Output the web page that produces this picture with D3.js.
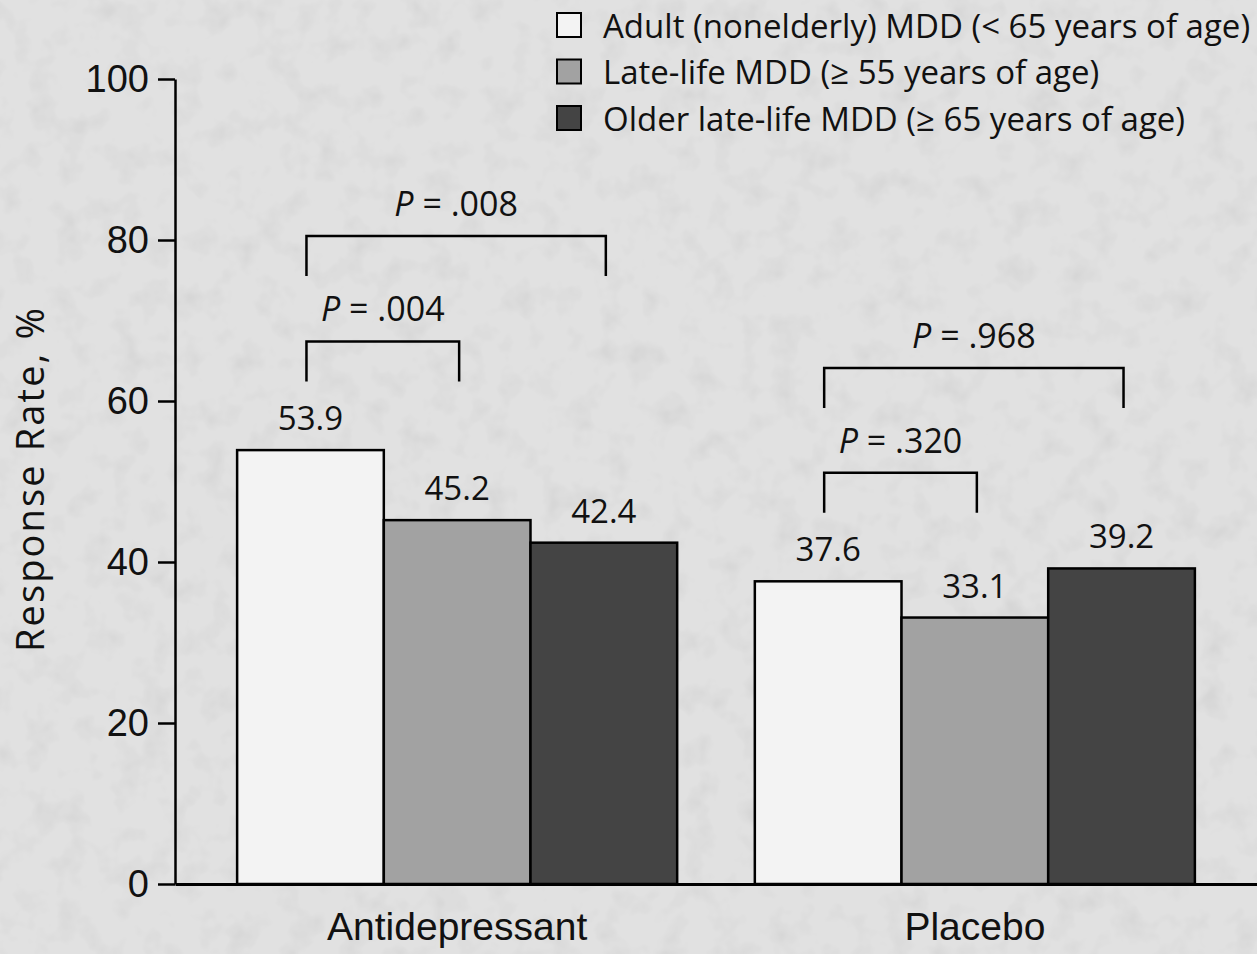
<!DOCTYPE html>
<html>
<head>
<meta charset="utf-8">
<script src="https://cdn.jsdelivr.net/npm/d3@7"></script>
<style>
  html, body { margin: 0; padding: 0; background: #e0e0e0; }
  svg { display: block; font-family: "Open Sans", "Noto Sans", sans-serif; }
</style>
</head>
<body>
<div id="chart"></div>
<script>
// data
const groups = ['Antidepressant', 'Placebo'];
const series = [
  'Adult (nonelderly) MDD (< 65 years of age)',
  'Late-life MDD (\u2265 55 years of age)',
  'Older late-life MDD (\u2265 65 years of age)'
];
const antidepressant = [53.9, 45.2, 42.4];
const placebo = [37.6, 33.1, 39.2];
const yTicks = [0, 20, 40, 60, 80, 100];

// significance brackets: group, first bar, second bar, bracket level (% units), label
const pGroup = ['Antidepressant', 'Antidepressant', 'Placebo', 'Placebo'];
const pFrom = [0, 0, 0, 0];
const pTo = [2, 1, 2, 1];
const pLevel = [80.5, 67.4, 64.1, 51.1];
const pValue = ['.008', '.004', '.968', '.320'];

const colors = ['#f3f3f3', '#a2a2a2', '#444444'];

const width = 1257, height = 954;
const margin = { top: 79, right: 0, bottom: 70, left: 175 };

const svg = d3.select('#chart').append('svg')
  .attr('width', width)
  .attr('height', height);

// mottled paper background
const defs = svg.append('defs');
const filter = defs.append('filter').attr('id', 'mottle')
  .attr('x', 0).attr('y', 0).attr('width', '100%').attr('height', '100%');
filter.append('feTurbulence')
  .attr('type', 'fractalNoise')
  .attr('baseFrequency', '0.035')
  .attr('numOctaves', 3)
  .attr('seed', 7);
filter.append('feColorMatrix')
  .attr('type', 'matrix')
  .attr('values', '0 0 0 0 0  0 0 0 0 0  0 0 0 0 0  0 0 0 -1.6 0.85');
filter.append('feComponentTransfer')
  .append('feFuncA').attr('type', 'linear').attr('slope', 0.07);

svg.append('rect')
  .attr('width', width).attr('height', height)
  .attr('fill', '#e1e1e1');
svg.append('rect')
  .attr('width', width).attr('height', height)
  .attr('filter', 'url(#mottle)');

const y = d3.scaleLinear()
  .domain([0, 100])
  .range([height - margin.bottom, margin.top]);

const x0 = d3.scaleBand()
  .domain(groups)
  .range([margin.left, width - margin.right])
  .paddingInner(0.15)
  .paddingOuter(0.12);

const x1 = d3.scaleBand()
  .domain(d3.range(series.length))
  .range([0, x0.bandwidth()]);

const values = { Antidepressant: antidepressant, Placebo: placebo };
const rows = [];
groups.forEach(g => values[g].forEach((v, i) => rows.push({ group: g, i: i, value: v })));

// bars
svg.append('g').selectAll('rect')
  .data(rows)
  .enter().append('rect')
  .attr('x', d => x0(d.group) + x1(d.i))
  .attr('y', d => y(d.value))
  .attr('width', x1.bandwidth())
  .attr('height', d => y(0) - y(d.value))
  .attr('fill', d => colors[d.i])
  .attr('stroke', '#000')
  .attr('stroke-width', 2.5);

// value labels
svg.append('g').selectAll('text')
  .data(rows)
  .enter().append('text')
  .attr('x', d => x0(d.group) + x1(d.i) + x1.bandwidth() / 2)
  .attr('y', d => y(d.value) - 20)
  .attr('text-anchor', 'middle')
  .attr('font-size', 33)
  .attr('fill', '#111')
  .text(d => d.value.toFixed(1));

// y axis
const yAxis = svg.append('g')
  .attr('transform', 'translate(' + margin.left + ',0)')
  .call(d3.axisLeft(y).tickValues(yTicks).tickSize(17).tickSizeOuter(0).tickPadding(9));
yAxis.select('.domain').attr('stroke-width', 2.5);
yAxis.selectAll('.tick line').attr('stroke-width', 2.5);
yAxis.selectAll('.tick text').attr('font-size', 38).attr('font-family', null).attr('fill', '#111');

// x axis
const xAxis = svg.append('g')
  .attr('transform', 'translate(0,' + y(0) + ')')
  .call(d3.axisBottom(x0).tickSize(0).tickSizeOuter(0).tickPadding(28));
xAxis.select('.domain').attr('stroke-width', 3);
xAxis.selectAll('.tick text').attr('font-size', 39).attr('font-family', null).attr('fill', '#111');

// y title
svg.append('text')
  .attr('transform', 'translate(29,' + 480 + ') rotate(-90)')
  .attr('text-anchor', 'middle')
  .attr('dominant-baseline', 'central')
  .attr('font-size', 38)
  .attr('textLength', 344)
  .attr('lengthAdjust', 'spacing')
  .attr('fill', '#111')
  .text('Response Rate, %');

// significance brackets
const legLen = 40;
const brackets = pValue.map((p, k) => ({
  x1: x0(pGroup[k]) + x1(pFrom[k]) + x1.bandwidth() / 2 - 4,
  x2: x0(pGroup[k]) + x1(pTo[k]) + x1.bandwidth() / 2 + 2,
  yTop: y(pLevel[k]),
  label: p
}));

const bg = svg.append('g').selectAll('g')
  .data(brackets)
  .enter().append('g');

bg.append('path')
  .attr('d', d => 'M' + d.x1 + ',' + (d.yTop + legLen) + 'V' + d.yTop + 'H' + d.x2 + 'V' + (d.yTop + legLen))
  .attr('fill', 'none')
  .attr('stroke', '#000')
  .attr('stroke-width', 2.5);

const bt = bg.append('text')
  .attr('x', d => (d.x1 + d.x2) / 2)
  .attr('y', d => d.yTop - 20)
  .attr('text-anchor', 'middle')
  .attr('font-size', 34)
  .attr('fill', '#111');
bt.append('tspan').attr('font-style', 'italic').text('P');
bt.append('tspan').text(d => ' = ' + d.label);

// legend
const legend = svg.append('g').selectAll('g')
  .data(series)
  .enter().append('g')
  .attr('transform', (d, i) => 'translate(557,' + (25 + i * 46.5) + ')');

legend.append('rect')
  .attr('x', 0).attr('y', -12)
  .attr('width', 24).attr('height', 24)
  .attr('fill', (d, i) => colors[i])
  .attr('stroke', '#000')
  .attr('stroke-width', 2);

legend.append('text')
  .attr('x', 46)
  .attr('y', 0)
  .attr('dominant-baseline', 'central')
  .attr('font-size', 33)
  .attr('fill', '#111')
  .text(d => d);
</script>
</body>
</html>
